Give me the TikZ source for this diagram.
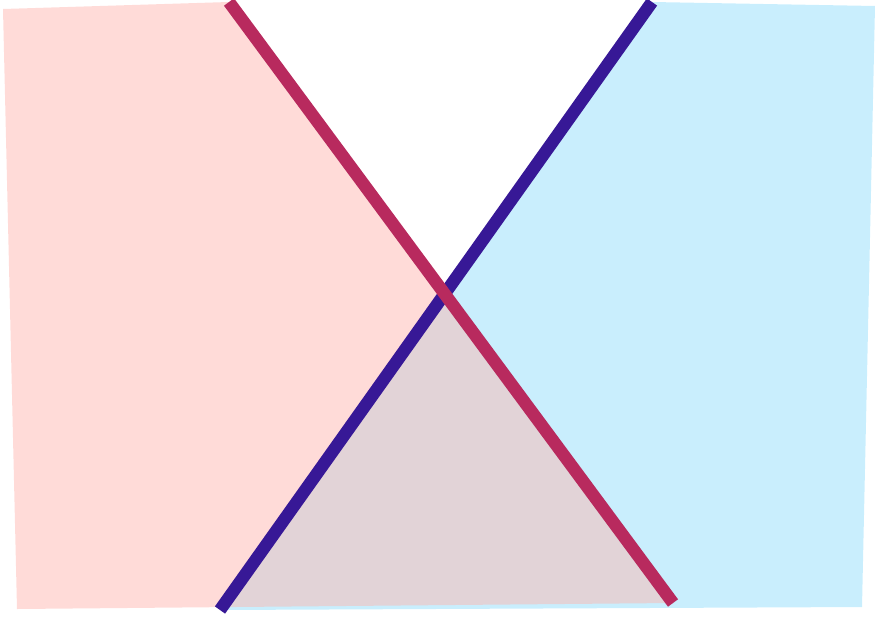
\documentclass[tikz,border=0pt]{standalone}
\definecolor{pinkfill}{RGB}{255,219,216}
\definecolor{bluefill}{RGB}{201,238,253}
\definecolor{overlapfill}{RGB}{226,211,215}
\definecolor{magline}{RGB}{184,42,94}
\definecolor{blueline}{RGB}{55,24,150}
\tikzset{
  halfline/.style={line width=12.5pt, line cap=butt},
}
\begin{document}
\begin{tikzpicture}[x=1pt,y=-1pt]
\useasboundingbox (0,0) rectangle (875,616);
\coordinate (pTL) at (3,9);
\coordinate (pT) at (229,2);
\coordinate (pB) at (673,603);
\coordinate (pBL) at (17,609);
\coordinate (bT) at (652,2);
\coordinate (bTR) at (875,6);
\coordinate (bBR) at (862,607);
\coordinate (bB) at (220,610);
\fill[pinkfill] (pTL) -- (pT) -- (pB) -- (pBL) -- cycle;
\fill[bluefill] (bT) -- (bTR) -- (bBR) -- (bB) -- cycle;
\begin{scope}
  \clip (pTL) -- (pT) -- (pB) -- (pBL) -- cycle;
  \fill[overlapfill] (bT) -- (bTR) -- (bBR) -- (bB) -- cycle;
\end{scope}
\draw[halfline, blueline] (bT) -- (bB);
\draw[halfline, magline] (pT) -- (pB);
\end{tikzpicture}
\end{document}
